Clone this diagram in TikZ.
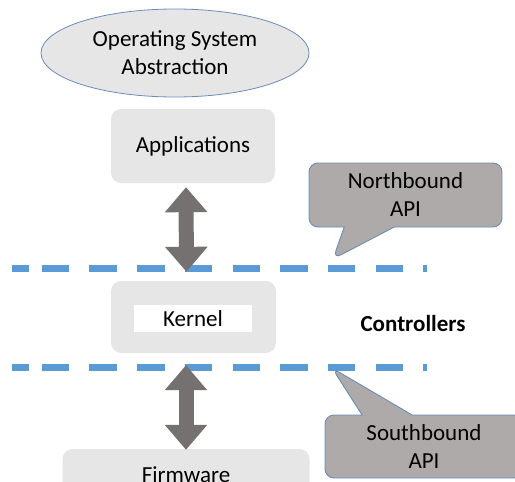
\documentclass[tikz,border=0pt]{standalone}
\usepackage{fontspec}
\setmainfont{Carlito}
\usetikzlibrary{shapes.geometric,shapes.callouts,arrows.meta}

\definecolor{boxgray}{HTML}{E7E6E6}
\definecolor{calloutgray}{HTML}{AEAAAA}
\definecolor{edgeblue}{HTML}{6A8DB8}
\definecolor{arrowgray}{HTML}{767171}
\definecolor{dashblue}{HTML}{5B9BD5}

\begin{document}
\begin{tikzpicture}[x=1pt, y=-1pt,
    every node/.style={font=\fontsize{23}{28}\selectfont, inner sep=0pt, align=center},
    layerbox/.style={fill=boxgray, rounded corners=10pt},
    talkbox/.style={rectangle callout, fill=calloutgray, draw=edgeblue, line width=0.9pt,
                    rounded corners=9pt, callout pointer width=50pt},
    updown/.style={line width=15pt, arrowgray, >={Triangle[width=41pt,length=25pt]}, <->},
    boundary/.style={dashblue, line width=6.5pt}]

        % Fix the page size and cut off what runs past it
        \useasboundingbox (0,0) rectangle (515,482);
        \clip (0,0) rectangle (515,482);

        % Draw the ellipse on top
        \node[ellipse, fill=boxgray, draw=edgeblue, line width=0.8pt,
              minimum width=268pt, minimum height=88pt] (osa) at (175,53) {Operating System\\Abstraction};

        % Draw the three layers
        \node[layerbox, minimum width=164pt, minimum height=74pt] (app) at (193,146) {Applications};
        \node[layerbox, minimum width=165pt, minimum height=72pt] (kernel) at (193.5,317) {};
        \node[fill=white, minimum width=118pt, minimum height=27pt] (kernellabel) at (193,318.5) {Kernel};
        \node[layerbox, minimum width=247pt, minimum height=51pt] (firmware) at (186,474.5) {Firmware};

        \node[font=\fontsize{23}{28}\selectfont\bfseries] (ctrl) at (413,324) {Controllers};

        % Draw the two dashed boundaries
        \foreach \y in {268.5, 367.5} {
            \draw[boundary] (12,\y) -- (29,\y);
            \draw[boundary, dash pattern=on 27.5pt off 20.2pt] (41.7,\y) -- (427,\y);
        }

        % Draw the arrows between the layers
        \draw[updown, shorten <=4pt, shorten >=9pt] ([xshift=-7pt]app.south) -- ([xshift=-7pt]kernel.north);
        \draw[updown, shorten <=12pt, shorten >=-1pt] ([xshift=-7.5pt]kernel.south) -- (firmware.north);

        % Draw the callouts pointing at the boundaries
        \coordinate (nbtip) at (333,259);
        \node[talkbox, minimum width=193pt, minimum height=64pt,
              callout absolute pointer=(nbtip)] (northapi) at (405.5,195) {Northbound\\API};
        \coordinate (sbtip) at (332,368);
        \node[talkbox, minimum width=198pt, minimum height=63pt,
              callout absolute pointer=(sbtip)] (southapi) at (424,446.5) {Southbound\\API};
    \end{tikzpicture}
\end{document}
